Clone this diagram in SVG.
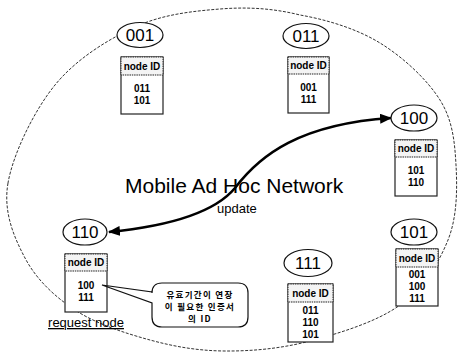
<svg xmlns="http://www.w3.org/2000/svg" width="467" height="357" viewBox="0 0 467 357">
<defs>
<marker id="ah" viewBox="0 0 12 10" refX="11" refY="5" markerWidth="12" markerHeight="10" markerUnits="userSpaceOnUse" orient="auto-start-reverse">
<path d="M0,0 L12,5 L0,10 z" fill="#000"/>
</marker>
</defs>
<style>
.net{fill:none;stroke:#333;stroke-width:1;stroke-dasharray:3 1.5}
.nodeEl{fill:#fff;stroke:#111;stroke-width:1.2}
.num{font-family:"Liberation Sans",Arial,sans-serif;font-size:17px;fill:#000;text-anchor:middle}
.tbl{fill:#fff;stroke:#222;stroke-width:1.2}
.hdr{fill:#f4f4f4;stroke:#222;stroke-width:1;stroke-dasharray:1.5 0.8}
.hd{font-family:"Liberation Sans",Arial,sans-serif;font-size:10px;font-weight:bold;fill:#000;text-anchor:middle}
.cell{font-family:"Liberation Sans",Arial,sans-serif;font-size:10px;font-weight:bold;fill:#000;text-anchor:middle}
.title{font-family:"Liberation Sans",Arial,sans-serif;font-size:21px;fill:#000}
.lbl{font-family:"Liberation Sans",Arial,sans-serif;font-size:13px;fill:#000}
.kr{font-family:"Noto Sans CJK KR","Liberation Sans",sans-serif;font-size:8.5px;font-weight:bold;letter-spacing:1.3px;fill:#000;text-anchor:middle}
.conn{fill:none;stroke:#000;stroke-width:2.6}
</style>
<rect width="467" height="357" fill="#fff"/>
<path class="net" d="M8,183 C3,211.8 13.8,236.8 25,258 C36.2,279.2 54.2,296.3 75,310 C95.8,323.7 125,333.2 150,340 C175,346.8 198.3,350.8 225,351 C251.7,351.2 280.8,348.7 310,341 C339.2,333.3 377,321.8 400,305 C423,288.2 438.7,263.3 448,240 C457.3,216.7 457.3,188.3 456,165 C454.7,141.7 452.7,120.3 440,100 C427.3,79.7 403.3,57.3 380,43 C356.7,28.7 326.7,19.7 300,15 C273.3,8.3 247.5,6.8 220,9 C192.5,11.2 162.5,14.3 135,27 C107.5,39.7 76.2,59 55,85 C33.8,111 13,154.2 8,183 Z"/>
<text class="title" x="125" y="193">Mobile Ad Hoc Network</text>
<g id="connectors">
<path class="conn" d="M109,232 C170,226 215,212 235,188 C260,155 300,124 391,118" marker-start="url(#ah)" marker-end="url(#ah)"/>
<text class="lbl" x="217" y="213">update</text>
</g>
<g id="node-001">
<ellipse class="nodeEl" cx="140" cy="35" rx="23" ry="12.5"/>
<text class="num" x="140" y="41">001</text>
<rect class="tbl" x="121" y="57" width="42" height="57"/>
<rect class="hdr" x="121" y="57" width="42" height="18"/>
<text class="hd" x="142" y="70">node ID</text>
<text class="cell" x="142" y="92">011</text>
<text class="cell" x="142" y="104">101</text>
</g>
<g id="node-011">
<ellipse class="nodeEl" cx="306" cy="36" rx="23" ry="12.5"/>
<text class="num" x="306" y="42">011</text>
<rect class="tbl" x="288" y="57" width="41" height="56"/>
<rect class="hdr" x="288" y="57" width="41" height="17"/>
<text class="hd" x="308.5" y="69">node ID</text>
<text class="cell" x="308.5" y="91">001</text>
<text class="cell" x="308.5" y="103">111</text>
</g>
<g id="node-100">
<ellipse class="nodeEl" cx="414" cy="118" rx="23" ry="13"/>
<text class="num" x="414" y="124">100</text>
<rect class="tbl" x="395" y="140" width="42" height="56"/>
<rect class="hdr" x="395" y="140" width="42" height="17"/>
<text class="hd" x="416" y="152">node ID</text>
<text class="cell" x="416" y="174">101</text>
<text class="cell" x="416" y="186">110</text>
</g>
<g id="node-101">
<ellipse class="nodeEl" cx="414" cy="232" rx="23" ry="13"/>
<text class="num" x="414" y="238">101</text>
<rect class="tbl" x="396" y="249" width="42" height="57"/>
<rect class="hdr" x="396" y="249" width="42" height="18"/>
<text class="hd" x="417" y="262">node ID</text>
<text class="cell" x="417" y="278">001</text>
<text class="cell" x="417" y="290">100</text>
<text class="cell" x="417" y="302">111</text>
</g>
<g id="node-111">
<ellipse class="nodeEl" cx="308" cy="263" rx="24" ry="13.5"/>
<text class="num" x="308" y="269">111</text>
<rect class="tbl" x="288" y="284" width="45" height="58"/>
<rect class="hdr" x="288" y="284" width="45" height="18"/>
<text class="hd" x="310.5" y="297">node ID</text>
<text class="cell" x="310.5" y="314">011</text>
<text class="cell" x="310.5" y="326">110</text>
<text class="cell" x="310.5" y="338">101</text>
</g>
<g id="node-110">
<ellipse class="nodeEl" cx="85" cy="232" rx="22" ry="13"/>
<text class="num" x="85" y="238">110</text>
<rect class="tbl" x="65" y="254" width="42" height="58"/>
<rect class="hdr" x="65" y="254" width="42" height="17"/>
<text class="hd" x="86" y="266">node ID</text>
<text class="cell" x="86" y="289">100</text>
<text class="cell" x="86" y="301">111</text>
<text class="lbl" x="86" y="327" text-anchor="middle" text-decoration="underline">request node</text>
</g>
<g id="callout">
<path d="M162,283 H238 Q248,283 248,293 V317 Q248,327 238,327 H162 Q152,327 152,317 V303 L102,285 L152,292 V293 Q152,283 162,283 Z" fill="#fff" stroke="#111" stroke-width="1.2"/>
<text class="kr" x="200" y="298">유효기간이 연장</text>
<text class="kr" x="200" y="310">이 필요한 인증서</text>
<text class="kr" x="200" y="322">의 ID</text>
</g>
</svg>
